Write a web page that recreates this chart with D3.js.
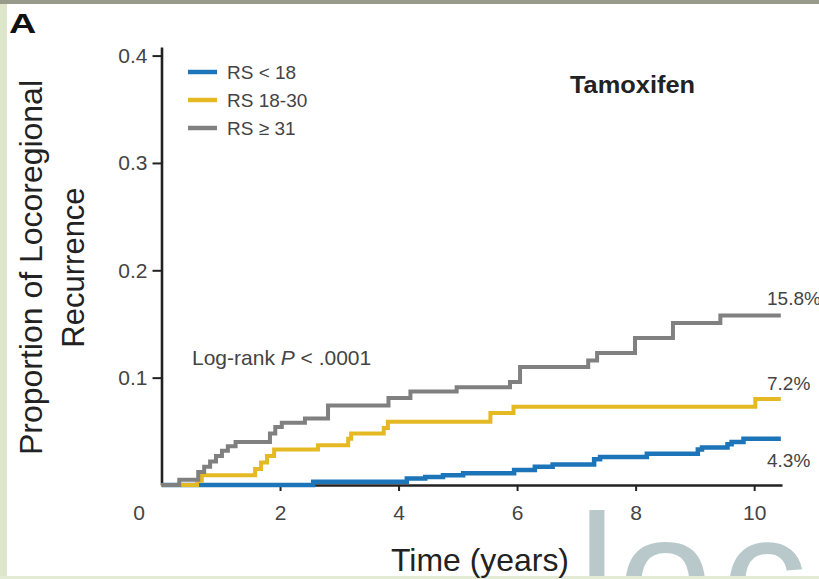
<!DOCTYPE html>
<html>
<head>
<meta charset="utf-8">
<script src="https://cdn.jsdelivr.net/npm/d3@7"></script>
<style>
  body { margin: 0; background: #fff; }
  svg { display: block; font-family: "Liberation Sans", Arial, sans-serif; }
</style>
</head>
<body>
<div id="chart"></div>
<script>
// data (step points: time in years, cumulative proportion)
const seriesNames = ["RS < 18", "RS 18-30", "RS \u2265 31"];
const seriesColors = ["#1c74b9", "#e5b923", "#808080"];

const lowTimes  = [0, 2.56, 4.14, 4.45, 4.75, 5.09, 5.95, 6.3, 6.6, 7.3, 7.4, 8.19, 9.05, 9.12, 9.55, 9.62, 9.82, 10.45];
const lowValues = [0, 0.003, 0.006, 0.0075, 0.009, 0.011, 0.014, 0.017, 0.019, 0.024, 0.026, 0.029, 0.033, 0.035, 0.038, 0.040, 0.043, 0.043];

const midTimes  = [0, 0.6, 0.68, 1.58, 1.68, 1.78, 1.9, 2.64, 3.15, 3.2, 3.75, 3.82, 5.55, 5.94, 10.02, 10.45];
const midValues = [0, 0.004, 0.009, 0.015, 0.021, 0.027, 0.033, 0.037, 0.043, 0.048, 0.053, 0.059, 0.067, 0.073, 0.080, 0.080];

const highTimes  = [0, 0.3, 0.62, 0.72, 0.82, 0.92, 1.02, 1.12, 1.25, 1.83, 1.92, 2.03, 2.42, 2.81, 3.83, 4.2, 4.98, 5.88, 6.05, 7.2, 7.35, 7.99, 8.63, 9.43, 10.45];
const highValues = [0, 0.005, 0.012, 0.017, 0.022, 0.027, 0.032, 0.036, 0.040, 0.048, 0.054, 0.058, 0.062, 0.074, 0.081, 0.087, 0.091, 0.096, 0.110, 0.116, 0.123, 0.137, 0.151, 0.158, 0.158];

const endLabels = ["4.3%", "7.2%", "15.8%"];
const xTicks = [2, 4, 6, 8, 10];
const yTicks = [0.1, 0.2, 0.3, 0.4];
const watermark = ["l", "o", "c"];

const width = 819, height = 579;

const svg = d3.select("#chart").append("svg")
  .attr("width", width)
  .attr("height", height);

// page frame: greenish left/bottom strips, dark top strip
svg.append("rect").attr("width", width).attr("height", height).attr("fill", "#fff");

// watermark behind everything, one letter per text
const wmX = [578, 618, 722];
watermark.forEach((ch, i) => {
  svg.append("text")
    .attr("x", wmX[i]).attr("y", 634)
    .attr("font-size", 170)
    .attr("fill", "#b9c9cb")
    .text(ch);
});

svg.append("rect").attr("x", 0).attr("y", 0).attr("width", 7).attr("height", height).attr("fill", "#dde6cb");
svg.append("rect").attr("x", 0).attr("y", 576).attr("width", width).attr("height", 3).attr("fill", "#e3ebd5");
svg.append("rect").attr("x", 0).attr("y", 0).attr("width", width).attr("height", 4).attr("fill", "#989b8b");

const x = d3.scaleLinear().domain([0, 10.47]).range([161.5, 782]);
const y = d3.scaleLinear().domain([0, 0.408]).range([485, 47]);

// panel letter (wide, heavy)
svg.append("text")
  .attr("transform", "translate(9,33) scale(1.35,1)")
  .attr("font-size", 28).attr("font-weight", "bold").attr("fill", "#111")
  .text("A");

// axes
const yAxis = svg.append("g")
  .attr("transform", `translate(${x(0)},0)`)
  .call(d3.axisLeft(y).tickValues(yTicks).tickFormat(d3.format(".1f")).tickSize(9).tickSizeOuter(0).tickPadding(5));

const xAxis = svg.append("g")
  .attr("transform", `translate(0,${y(0)})`)
  .call(d3.axisBottom(x).tickValues(xTicks).tickSize(6).tickSizeOuter(0).tickPadding(14));

[xAxis, yAxis].forEach(g => {
  g.select(".domain").attr("stroke", "#222").attr("stroke-width", 2.6);
  g.selectAll(".tick line").attr("stroke", "#222").attr("stroke-width", 2);
  g.selectAll(".tick text").attr("font-size", 21).attr("fill", "#444")
    .attr("font-family", "Liberation Sans, Arial, sans-serif");
});

// shared origin label
svg.append("text")
  .attr("x", 139).attr("y", 505).attr("dy", "0.71em")
  .attr("text-anchor", "middle")
  .attr("font-size", 21).attr("fill", "#444")
  .text("0");

// curves
const series = [
  { times: lowTimes, values: lowValues },
  { times: midTimes, values: midValues },
  { times: highTimes, values: highValues }
];

const line = d3.line()
  .x(d => x(d[0]))
  .y(d => y(d[1]))
  .curve(d3.curveStepAfter);

series.forEach((s, i) => {
  const pts = s.times.map((t, j) => [t, s.values[j]]);
  svg.append("path")
    .datum(pts)
    .attr("fill", "none")
    .attr("stroke", seriesColors[i])
    .attr("stroke-width", i === 0 ? 4.5 : 4)
    .attr("d", line);
});

// end labels
const endY = [467, 390, 305];
endLabels.forEach((t, i) => {
  svg.append("text")
    .attr("x", 767).attr("y", endY[i])
    .attr("font-size", 19).attr("fill", "#444")
    .text(t);
});

// legend
const legend = svg.append("g");
seriesNames.forEach((name, i) => {
  const ly = 72 + i * 28;
  legend.append("line")
    .attr("x1", 188).attr("x2", 217).attr("y1", ly).attr("y2", ly)
    .attr("stroke", seriesColors[i]).attr("stroke-width", 4.5);
  legend.append("text")
    .attr("x", 227).attr("y", ly).attr("dy", "0.36em")
    .attr("font-size", 19).attr("fill", "#444")
    .text(name);
});

// title inside panel
svg.append("text")
  .attr("x", 570).attr("y", 93)
  .attr("font-size", 24).attr("font-weight", "bold").attr("fill", "#222")
  .attr("textLength", 125).attr("lengthAdjust", "spacingAndGlyphs")
  .text("Tamoxifen");

// log-rank annotation
const lr = svg.append("text")
  .attr("x", 192).attr("y", 365)
  .attr("font-size", 21).attr("fill", "#444");
lr.append("tspan").text("Log-rank ");
lr.append("tspan").attr("font-style", "italic").text("P");
lr.append("tspan").text(" < .0001");

// axis titles
svg.append("text")
  .attr("transform", "translate(42,267.5) rotate(-90)")
  .attr("text-anchor", "middle")
  .attr("font-size", 31).attr("fill", "#222")
  .attr("textLength", 375).attr("lengthAdjust", "spacingAndGlyphs")
  .text("Proportion of Locoregional");

svg.append("text")
  .attr("transform", "translate(84,267.5) rotate(-90)")
  .attr("text-anchor", "middle")
  .attr("font-size", 31).attr("fill", "#222")
  .text("Recurrence");

svg.append("text")
  .attr("x", 480).attr("y", 571)
  .attr("text-anchor", "middle")
  .attr("font-size", 32).attr("fill", "#222")
  .attr("textLength", 178).attr("lengthAdjust", "spacingAndGlyphs")
  .text("Time (years)");
</script>
</body>
</html>
